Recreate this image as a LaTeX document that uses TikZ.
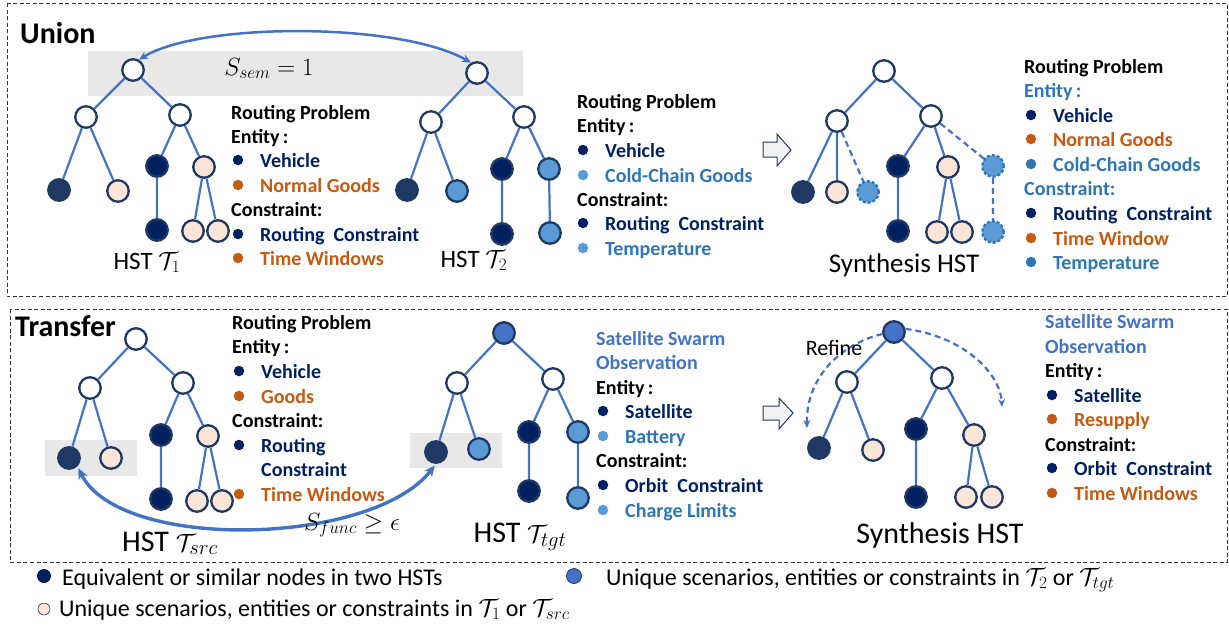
\documentclass[tikz,border=0pt]{standalone}
\usepackage{fontspec}
\setmainfont{Carlito}
\usetikzlibrary{arrows.meta}
\definecolor{cdark}{HTML}{002060}
\definecolor{cdarktwo}{HTML}{1F3864}
\definecolor{cpeach}{HTML}{FBE5D6}
\definecolor{clblue}{HTML}{5B9BD5}
\definecolor{cblue}{HTML}{4472C4}
\definecolor{corange}{HTML}{C55A11}
\definecolor{ctblue}{HTML}{2E75B6}
\definecolor{cgraybg}{HTML}{E8E8E8}
\definecolor{cgraylt}{HTML}{F2F2F2}
\newcommand\bitem[6]{%
  \node[bdot,fill=#4] (#1d) at (#2,{#3-7}) {};
  \node[hdtxt,text=#5] (#1) at ({#2+22},#3) {#6};}
\begin{document}
\begin{tikzpicture}[x=1pt,y=-1pt,
  tn/.style={circle,draw=cdarktwo,line width=2.3pt,minimum size=21.5pt,inner sep=0pt},
  wn/.style={tn,fill=white},
  dn/.style={tn,fill=cdark},
  dk/.style={tn,fill=cdarktwo},
  pn/.style={tn,fill=cpeach},
  bn/.style={tn,fill=clblue},
  rn/.style={tn,fill=cblue},
  xn/.style={tn,fill=clblue,draw=ctblue,dash pattern=on 3pt off 2pt},
  ed/.style={draw=cblue,line width=2.2pt},
  xed/.style={ed,dash pattern=on 6pt off 4pt},
  boxframe/.style={draw=black!80,line width=0.9pt,dash pattern=on 4pt off 2.5pt},
  hdtxt/.style={anchor=base west,inner sep=0pt,font=\fontsize{20}{23}\selectfont\bfseries},
  bdot/.style={circle,inner sep=0pt,minimum size=10.5pt},
  ttl/.style={anchor=base west,inner sep=0pt,font=\fontsize{30}{33}\selectfont\bfseries},
  lbl/.style={anchor=base,inner sep=0pt,font=\fontsize{25}{28}\selectfont},
  lblb/.style={anchor=base,inner sep=0pt,font=\fontsize{30}{33}\selectfont},
  lgt/.style={anchor=base west,inner sep=0pt,font=\fontsize{24}{27}\selectfont},
  hollow/.style={fill=cgraylt,draw=cdarktwo,line width=1pt}
]
\useasboundingbox (0,0) rectangle (1229,624);
% backgrounds
\fill[cgraybg] (88,51) rectangle (523,96);
\fill[cgraybg] (45,440) rectangle (137,476);
\fill[cgraybg] (410,433) rectangle (502,468);
% frames
\draw[boxframe] (7,3) rectangle (1227,296);
\draw[boxframe] (10,309) rectangle (1227,562);
\node[ttl] (union) at (20,43) {Union};
\node[ttl] (transfer) at (15,336) {Transfer};

% ---------- Union T1
\node[wn] (ar) at (133,70) {};
\node[wn] (al) at (86,117) {};
\node[wn] (arr) at (180,115) {};
\node[dk] (a1) at (59,190) {};
\node[pn] (a2) at (118,191) {};
\node[dn] (a3) at (157,166) {};
\node[pn] (a4) at (204,167) {};
\node[dn] (a5) at (157,230) {};
\node[pn] (a6) at (193,231) {};
\node[pn] (a7) at (218,231) {};
\draw[ed] (ar)--(al) (ar)--(arr) (al)--(a1) (al)--(a2) (arr)--(a3) (arr)--(a4) (a3)--(a5) (a4)--(a6) (a4)--(a7);
\node[lbl] (hst1) at (147,269) {HST $\mathcal{T}_1$};

% ---------- Union T2
\node[wn] (br) at (477,73) {};
\node[wn] (bl) at (431,122) {};
\node[wn] (brr) at (524,117) {};
\node[dk] (b1) at (407,190) {};
\node[bn] (b2) at (457,191) {};
\node[dn] (b3) at (502,169) {};
\node[bn] (b4) at (549,169) {};
\node[dn] (b5) at (502,234) {};
\node[bn] (b6) at (550,233) {};
\draw[ed] (br)--(bl) (br)--(brr) (bl)--(b1) (bl)--(b2) (brr)--(b3) (brr)--(b4) (b3)--(b5) (b4)--(b6);
\node[lbl] (hst2) at (474,267) {HST $\mathcal{T}_2$};

\draw[ed,line width=2.5pt,{Stealth[length=9pt,width=8pt]}-{Stealth[length=9pt,width=8pt]}] (ar.60) .. controls (200,22) and (400,22) .. (br.120);
\node[anchor=base,inner sep=0pt,font=\fontsize{26}{28}\selectfont] (ssem) at (269,75) {$S_{sem}=1$};

% T1 text
\node[hdtxt] (p1h) at (231,119) {Routing Problem};
\node[hdtxt] (p1e) at (231,143) {Entity\,:};
\bitem{p1a}{238}{167}{cdark}{cdark}{Vehicle}
\bitem{p1b}{238}{192}{corange}{corange}{Normal Goods}
\node[hdtxt] (p1c) at (231,216) {Constraint:};
\bitem{p1f}{238}{241}{cdark}{cdark}{Routing\ \ Constraint}
\bitem{p1g}{238}{265}{corange}{corange}{Time Windows}

% T2 text
\node[hdtxt] (p2h) at (577,108) {Routing Problem};
\node[hdtxt] (p2e) at (577,132) {Entity\,:};
\bitem{p2a}{583}{157}{cdark}{cdark}{Vehicle}
\bitem{p2b}{583}{182}{clblue}{ctblue}{Cold-Chain Goods}
\node[hdtxt] (p2c) at (577,206) {Constraint:};
\bitem{p2f}{583}{230}{cdark}{cdark}{Routing\ \ Constraint}
\bitem{p2g}{583}{255}{clblue}{ctblue}{Temperature}

% hollow arrow 1
\draw[hollow] (763,142) -- (777,142) -- (777,134) -- (791,150) -- (777,166) -- (777,157) -- (763,157) -- cycle;

% ---------- Union synthesis
\node[wn] (cr) at (884,71) {};
\node[wn] (cl) at (837,121) {};
\node[wn] (crr) at (931,116) {};
\node[dk] (c1) at (803,192) {};
\node[pn] (c2) at (837,192) {};
\node[xn] (c3) at (868,192) {};
\node[dn] (c4) at (898,166) {};
\node[pn] (c5) at (948,167) {};
\node[xn] (c6) at (993,166) {};
\node[dn] (c7) at (898,231) {};
\node[pn] (c8) at (937,232) {};
\node[pn] (c9) at (962,232) {};
\node[xn] (c10) at (993,232) {};
\draw[ed] (cr)--(cl) (cr)--(crr) (cl)--(c1) (cl)--(c2) (crr)--(c4) (crr)--(c5) (c4)--(c7) (c5)--(c8) (c5)--(c9);
\draw[xed] (cl)--(c3) (crr)--(c6) (c6)--(c10);
\node[anchor=base,inner sep=0pt,font=\fontsize{27}{30}\selectfont] (syn1) at (904,272) {Synthesis HST};

\node[hdtxt] (p3h) at (1024,73) {Routing Problem};
\node[hdtxt,text=ctblue] (p3e) at (1024,97) {Entity\,:};
\bitem{p3a}{1031}{122}{cdark}{cdark}{Vehicle}
\bitem{p3b}{1031}{146}{corange}{corange}{Normal Goods}
\bitem{p3x}{1031}{171}{ctblue}{ctblue}{Cold-Chain Goods}
\node[hdtxt,text=ctblue] (p3c) at (1024,195) {Constraint:};
\bitem{p3f}{1031}{220}{cdark}{cdark}{Routing\ \ Constraint}
\bitem{p3g}{1031}{245}{corange}{corange}{Time Window}
\bitem{p3k}{1031}{269}{ctblue}{ctblue}{Temperature}

% ---------- Transfer src
\node[wn] (sr) at (136,339) {};
\node[wn] (sl) at (90,388) {};
\node[wn] (srr) at (183,383) {};
\node[dk] (s1) at (69,458) {};
\node[pn] (s2) at (111,458) {};
\node[dn] (s3) at (161,435) {};
\node[pn] (s4) at (208,436) {};
\node[dn] (s5) at (161,499) {};
\node[pn] (s6) at (197,501) {};
\node[pn] (s7) at (222,501) {};
\draw[ed] (sr)--(sl) (sr)--(srr) (sl)--(s1) (sl)--(s2) (srr)--(s3) (srr)--(s4) (s3)--(s5) (s4)--(s6) (s4)--(s7);
\node[lblb] (hsts) at (170,551) {HST $\mathcal{T}_{src}$};

\node[hdtxt] (q1h) at (232,329) {Routing Problem};
\node[hdtxt] (q1e) at (232,353) {Entity\,:};
\bitem{q1a}{239}{378}{cdark}{cdark}{Vehicle}
\bitem{q1b}{239}{403}{corange}{corange}{Goods}
\node[hdtxt] (q1c) at (232,427) {Constraint:};
\bitem{q1f}{239}{452}{cdark}{cdark}{Routing}
\node[hdtxt,text=cdark] (q1f2) at (261,476) {Constraint};
\bitem{q1g}{239}{501}{corange}{corange}{Time Windows}

% ---------- Transfer tgt
\node[rn] (tr) at (504,333) {};
\node[wn] (tl) at (457,383) {};
\node[wn] (trr) at (553,379) {};
\node[dk] (t1) at (436,452) {};
\node[bn] (t2) at (479,449) {};
\node[dn] (t3) at (529,432) {};
\node[bn] (t4) at (578,432) {};
\node[dn] (t5) at (529,491) {};
\node[bn] (t6) at (578,498) {};
\draw[ed] (tr)--(tl) (tr)--(trr) (tl)--(t1) (tl)--(t2) (trr)--(t3) (trr)--(t4) (t3)--(t5) (t4)--(t6);
\node[lblb] (hstt) at (520,542) {HST $\mathcal{T}_{tgt}$};

\draw[ed,line width=3.4pt,{Stealth[length=11pt,width=10pt]}-{Stealth[length=11pt,width=10pt]},shorten <=2pt,shorten >=2pt] (s1.-45) .. controls (120,552) and (372,546) .. (t1.-90);
\node[anchor=base,inner sep=0pt,font=\fontsize{25}{27}\selectfont] (sfunc) at (352,530) {$S_{func}\geq\epsilon$};

\node[hdtxt,text=cblue] (q2h) at (596,345) {Satellite Swarm};
\node[hdtxt,text=cblue] (q2o) at (596,369) {Observation};
\node[hdtxt] (q2e) at (596,394) {Entity\,:};
\bitem{q2a}{603}{418}{cdark}{cdark}{Satellite}
\bitem{q2b}{603}{443}{clblue}{ctblue}{Battery}
\node[hdtxt] (q2c) at (596,467) {Constraint:};
\bitem{q2f}{603}{492}{cdark}{cdark}{Orbit\ \ Constraint}
\bitem{q2g}{603}{517}{clblue}{ctblue}{Charge Limits}

% hollow arrow 2
\draw[hollow] (763,406) -- (779,406) -- (779,398) -- (793,413) -- (779,429) -- (779,420) -- (763,420) -- cycle;

% ---------- Transfer synthesis
\node[rn] (yr) at (894,332) {};
\node[wn] (yl) at (847,382) {};
\node[wn] (yrr) at (942,378) {};
\node[dk] (y1) at (819,448) {};
\node[pn] (y2) at (873,450) {};
\node[dn] (y3) at (916,429) {};
\node[pn] (y4) at (974,435) {};
\node[dn] (y5) at (916,497) {};
\node[pn] (y6) at (966,497) {};
\node[pn] (y7) at (992,497) {};
\draw[ed] (yr)--(yl) (yr)--(yrr) (yl)--(y1) (yl)--(y2) (yrr)--(y3) (yrr)--(y4) (y3)--(y5) (y4)--(y6) (y4)--(y7);
\node[lblb] (syn2) at (940,543) {Synthesis HST};
\coordinate (rfl) at (807,428);
\coordinate (rfr) at (1002,407);
\draw[xed,-{Stealth[length=8pt,width=7pt]}] (yr.190) .. controls (840,344) and (806,378) .. (rfl);
\draw[xed,-{Stealth[length=8pt,width=7pt]}] (yr.15) .. controls (962,336) and (1000,372) .. (rfr);
\node[anchor=base,inner sep=0pt,font=\fontsize{22}{24}\selectfont] (refine) at (834,355) {Refine};

\node[hdtxt,text=cblue] (q3h) at (1045,328) {Satellite Swarm};
\node[hdtxt,text=cblue] (q3o) at (1045,353) {Observation};
\node[hdtxt] (q3e) at (1045,377) {Entity\,:};
\bitem{q3a}{1052}{402}{cdark}{cdark}{Satellite}
\bitem{q3b}{1052}{426}{corange}{corange}{Resupply}
\node[hdtxt] (q3c) at (1045,451) {Constraint:};
\bitem{q3f}{1052}{475}{cdark}{cdark}{Orbit\ \ Constraint}
\bitem{q3g}{1052}{500}{corange}{corange}{Time Windows}

% ---------- legend
\node[circle,inner sep=0pt,minimum size=14pt,fill=cdark] (lg1) at (44,576) {};
\node[lgt] (lg1t) at (62,585) {Equivalent or similar nodes in two HSTs};
\node[circle,inner sep=0pt,minimum size=12pt,fill=cpeach,draw=cdarktwo,line width=0.6pt] (lg2) at (44,609) {};
\node[lgt] (lg2t) at (59,616) {Unique scenarios, entities or constraints in $\mathcal{T}_1$ or $\mathcal{T}_{src}$};
\node[circle,inner sep=0pt,minimum size=15pt,fill=cblue,draw=cdarktwo,line width=0.8pt] (lg3) at (574,576) {};
\node[lgt] (lg3t) at (606,585) {Unique scenarios, entities or constraints in $\mathcal{T}_2$ or $\mathcal{T}_{tgt}$};
\end{tikzpicture}
\end{document}
